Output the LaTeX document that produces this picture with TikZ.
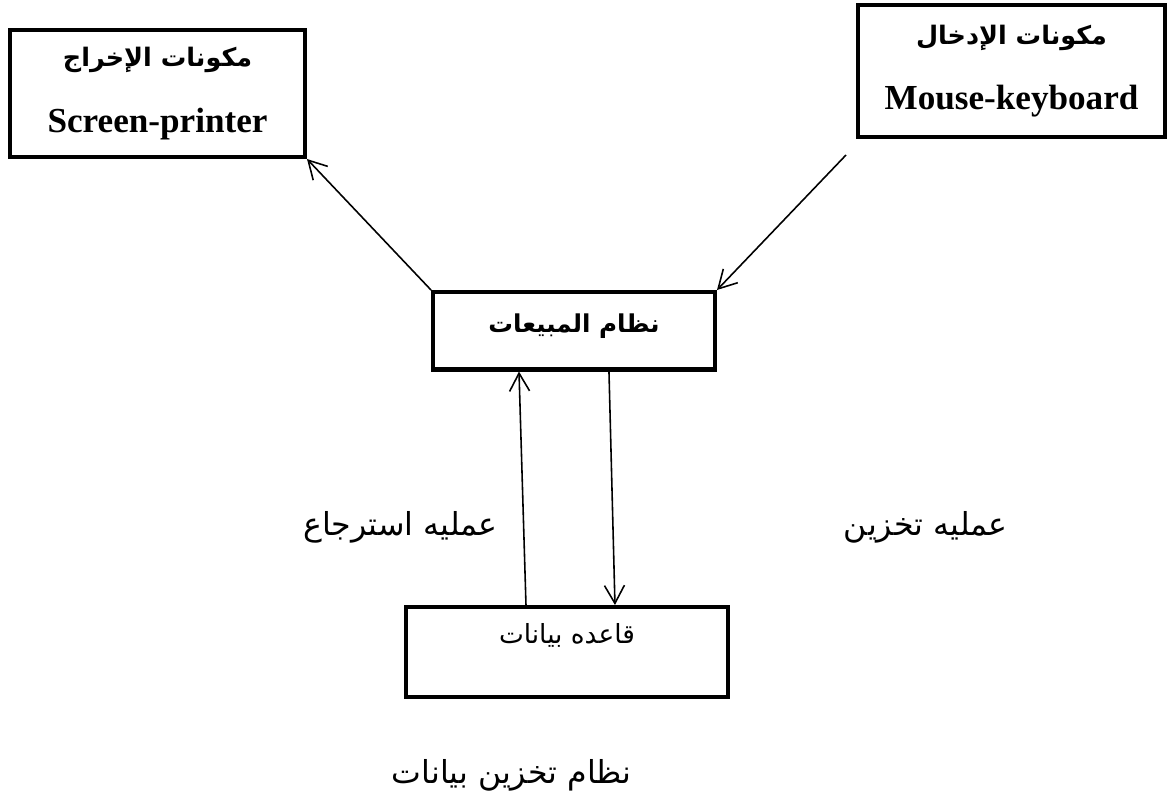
\documentclass[tikz,border=0pt]{standalone}
\usepackage{fontspec}
\setmainfont{Liberation Serif}
\newfontfamily\arabicfont[Script=Arabic]{DejaVu Sans}
\TeXXeTstate=1
\usetikzlibrary{arrows.meta}

\begin{document}
\begin{tikzpicture}[x=0.02cm, y=-0.02cm,
    box/.style={draw, line width=2.3pt, inner sep=0pt, align=center},
    link/.style={line width=0.9pt, -{Straight Barb[length=3.6mm,width=4mm]}},
    lbl/.style={inner sep=0pt, font=\arabicfont\fontsize{18}{22}\selectfont}]
    \useasboundingbox (0,0) rectangle (1174,802);

    % boxes
    \node[box, minimum width=5.9cm, minimum height=2.54cm] (out) at (157.5,93.5)
        {{\arabicfont\bfseries\fontsize{14.5}{18}\selectfont\beginR مكونات الإخراج\endR}\\[19pt]
         {\bfseries\fontsize{20}{24}\selectfont Screen-printer}};
    \node[box, minimum width=6.14cm, minimum height=2.64cm] (in) at (1011.5,71)
        {{\arabicfont\bfseries\fontsize{14.5}{18}\selectfont\beginR مكونات الإدخال\endR}\\[19pt]
         {\bfseries\fontsize{20}{24}\selectfont Mouse-keyboard}};
    \node[box, anchor=north, minimum width=5.64cm, text height=0.8cm, text depth=0.75cm,
        font=\arabicfont\bfseries\fontsize{14}{18}\selectfont] (sys) at (574,290)
        {\beginR نظام المبيعات\endR};
    \node[box, anchor=north, minimum width=6.44cm, text height=0.72cm, text depth=1.08cm,
        font=\arabicfont\fontsize{15}{18}\selectfont] (db) at (567,605)
        {\beginR قاعده بيانات\endR};

    \coordinate (kb) at (846,155);

    % arrows
    \draw[link] (sys.north west) -- (out.south east);
    \draw[link] (kb) -- (sys.north east);
    \draw[link] ([xshift=2.44cm]db.north west) -- ([xshift=1.76cm]sys.south west);
    \draw[link] ([xshift=3.56cm]sys.south west) -- ([xshift=4.22cm]db.north west);

    % labels
    \node[lbl, anchor=east] (fetch) at (498,527) {\beginR عمليه استرجاع\endR};
    \node[lbl, anchor=east] (store) at (1008,527) {\beginR عمليه تخزين\endR};
    \node[lbl, anchor=east] (storage) at (632,775) {\beginR نظام تخزين بيانات\endR};
\end{tikzpicture}
\end{document}
